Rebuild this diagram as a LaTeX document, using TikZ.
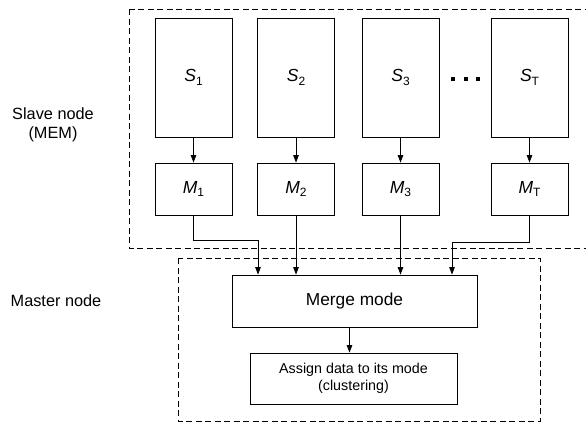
\documentclass[tikz,border=0pt]{standalone}
\usepackage{fontspec}
\setmainfont{Liberation Sans}
\usetikzlibrary{arrows.meta}
\newcommand\lblsub[2]{\textit{#1}\raisebox{-0.35ex}{\fontsize{12}{12}\selectfont #2}}
\begin{document}
\begin{tikzpicture}[x=1pt,y=-1pt,
  box/.style={draw,line width=0.8pt,minimum width=77pt,inner sep=0pt,font=\fontsize{17.5}{20}\selectfont},
  sbox/.style={box,minimum height=119pt},
  mbox/.style={box,minimum height=52pt},
  arr/.style={line width=0.8pt,-{Triangle[length=7.5pt,width=5.5pt]}},
  grp/.style={dash pattern=on 6pt off 3.5pt,line width=0.8pt},
  lab/.style={align=center,font=\fontsize{16.3}{19.5}\selectfont}]
\clip (0,0) rectangle (586,423);
% groups
\draw[grp] (129,9) rectangle (610,248);
\draw[grp] (178,258) rectangle (540,421);
% slave boxes
\node[sbox] (s1) at (193.5,77.5) {\lblsub{S}{1}};
\node[sbox] (s2) at (296,77.5) {\lblsub{S}{2}};
\node[sbox] (s3) at (400.5,77.5) {\lblsub{S}{3}};
\node[sbox] (st) at (529.5,77.5) {\lblsub{S}{T}};
\node[mbox] (m1) at (193.5,189) {\lblsub{M}{1}};
\node[mbox] (m2) at (296,189) {\lblsub{M}{2}};
\node[mbox] (m3) at (400.5,189) {\lblsub{M}{3}};
\node[mbox] (mt) at (529.5,189) {\lblsub{M}{T}};
% dots
\foreach \dx in {453,466,478} \fill (\dx-2,77) rectangle (\dx+2,81);
% master
\node[draw,line width=0.8pt,minimum width=245pt,minimum height=52pt,inner sep=0pt,font=\fontsize{17.3}{20}\selectfont] (merge) at (354.5,301) {Merge mode};
\node[draw,line width=0.8pt,minimum width=207pt,minimum height=51pt,inner sep=0pt,align=center,font=\fontsize{14.3}{17.5}\selectfont] (assign) at (353.5,378.5) {Assign data to its mode\\(clustering)};
% labels
\node[lab] (slave) at (53,125) {Slave node\\(MEM)};
\node[lab] (master) at (56,301) {Master node};
% arrows
\foreach \n in {1,2,3,t} \draw[arr] (s\n.south) -- (m\n.north);
\coordinate (j1) at (258,240);
\coordinate (j4) at (452,242);
\draw[arr] (m1.south) |- (j1) -- (j1 |- merge.north);
\draw[arr] (m2.south) -- (m2.south |- merge.north);
\draw[arr] (m3.south) -- (m3.south |- merge.north);
\draw[arr] (mt.south) |- (j4) -- (j4 |- merge.north);
\draw[arr] ([xshift=-5pt]merge.south) -- ([xshift=-5pt]merge.south |- assign.north);
\end{tikzpicture}
\end{document}
